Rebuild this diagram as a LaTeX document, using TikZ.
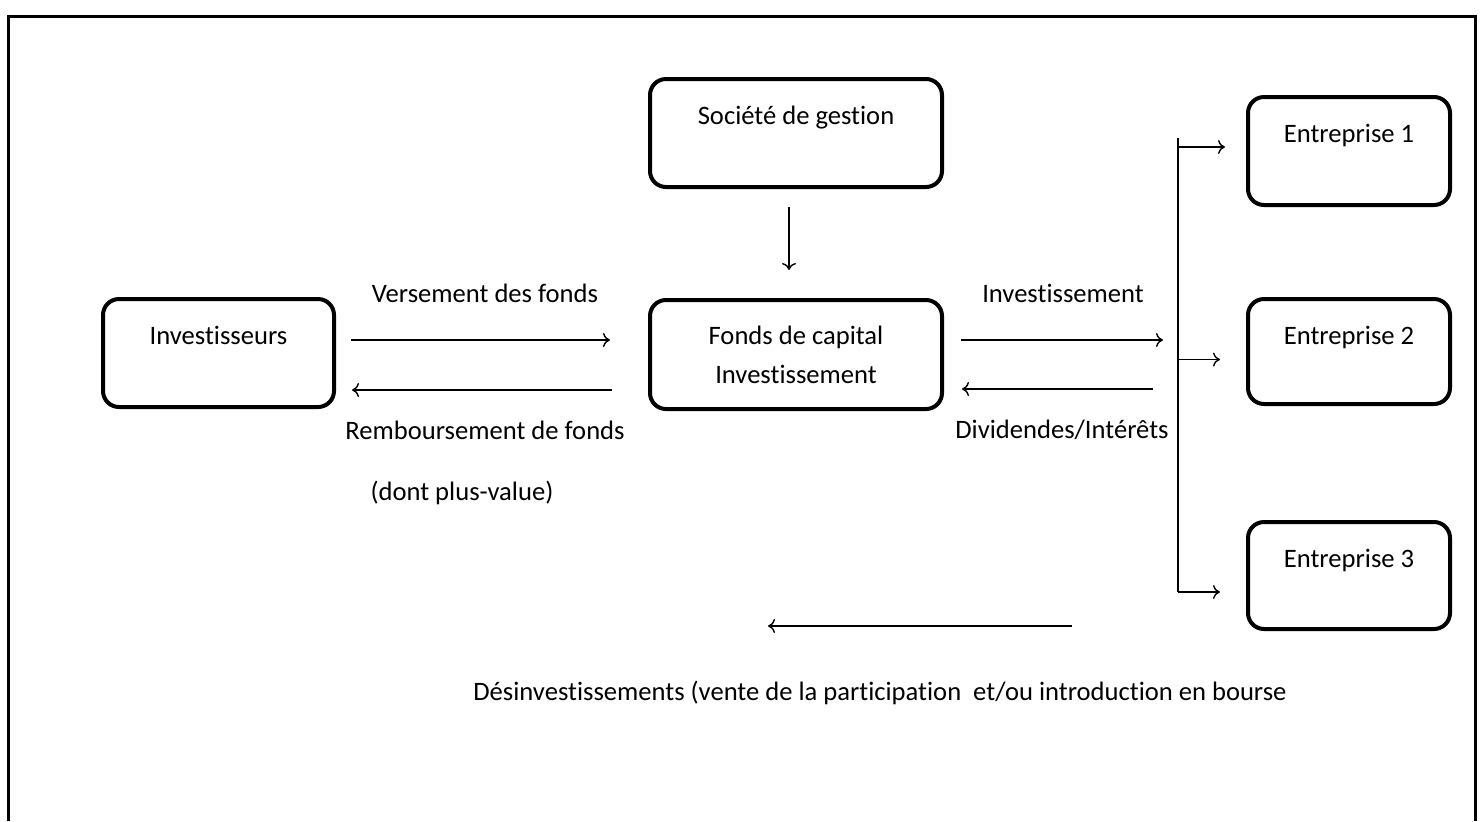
\documentclass[tikz,border=0pt]{standalone}
\usepackage{fontspec}
\setmainfont[Ligatures=NoCommon]{Carlito}
\usepackage{tikz}
\usetikzlibrary{arrows.meta}

\begin{document}
\begin{tikzpicture}[
  x=0.5pt,y=-0.5pt,
  font=\fontsize{13.3}{19.5}\selectfont,
  b/.style={draw,line width=2pt,rounded corners=8pt,align=center,
    anchor=north west,inner xsep=2pt,inner ysep=0pt},
  one/.style={b,text height=22.5pt,text depth=31.5pt},
  lbl/.style={inner sep=1pt},
  arrow/.style={-{To[length=3.5pt,width=7pt]},line width=0.7pt},
  line/.style={line width=0.7pt}
]
\useasboundingbox (0,0) rectangle (1480,821);
\draw[line width=1.5pt] (8,821) -- (8,16) -- (1475,16) -- (1475,821);

\node[one,minimum width=146pt] (gestion) at (648,77) {Société de gestion};
\node[one,minimum width=115.5pt] (invest) at (101,297) {Investisseurs};
\node[b,minimum width=146pt,minimum height=54.5pt] (fonds) at (648,298)
  {Fonds de capital\\Investissement};
\node[one,minimum width=101pt] (ent1) at (1246,95) {Entreprise 1};
\node[one,minimum width=101pt,text depth=30pt] (ent2) at (1246,297) {Entreprise 2};
\node[one,minimum width=101pt,text depth=31pt] (ent3) at (1246,520) {Entreprise 3};

\node[lbl] (versement) at (485,293) {Versement des fonds};
\node[lbl] (rembours) at (485,430) {Remboursement de fonds};
\node[lbl] (plusvalue) at (462,493) {(dont plus-value)};
\node[lbl] (investit) at (1063,293) {Investissement};
\node[lbl] (dividendes) at (1062,430) {Dividendes/Intérêts};
\node[lbl] (desinvest) at (880,693)
  {Désinvestissements (vente de la participation \ et/ou introduction en bourse};

\coordinate (bartop) at (1178,138);
\coordinate (barbot) at (1178,592);
\coordinate (desa) at (1072,626);
\coordinate (desb) at (768,626);

\draw[arrow,shorten <=9pt,shorten >=14pt] ([xshift=-3.5pt]gestion.south)
  -- ([xshift=-3.5pt]fonds.north);
\draw[arrow,shorten <=7.5pt,shorten >=19pt] ([yshift=6.5pt]invest.east)
  -- ([yshift=6.5pt]invest.east -| fonds.west);
\draw[arrow,shorten <=18pt,shorten >=8pt] ([yshift=-17.75pt]fonds.west)
  -- ([yshift=-17.75pt]fonds.west -| invest.east);
\draw[arrow,shorten <=8.5pt,shorten >=7.5pt] ([yshift=7.25pt]fonds.east)
  -- ([yshift=7.25pt]fonds.east -| bartop);
\draw[arrow,shorten <=12.5pt,shorten >=9pt] ([yshift=-17.25pt]fonds.east -| bartop)
  -- ([yshift=-17.25pt]fonds.east);
\draw[line] (bartop) -- (barbot);
\draw[arrow,shorten >=10.5pt] ([yshift=2pt]ent1.west -| bartop) -- ([yshift=2pt]ent1.west);
\draw[arrow,shorten >=13pt] ([yshift=-4pt]ent2.west -| bartop) -- ([yshift=-4pt]ent2.west);
\draw[arrow,shorten >=13pt] (barbot) -- (barbot -| ent3.west);
\draw[arrow] (desa) -- (desb);
\end{tikzpicture}
\end{document}
